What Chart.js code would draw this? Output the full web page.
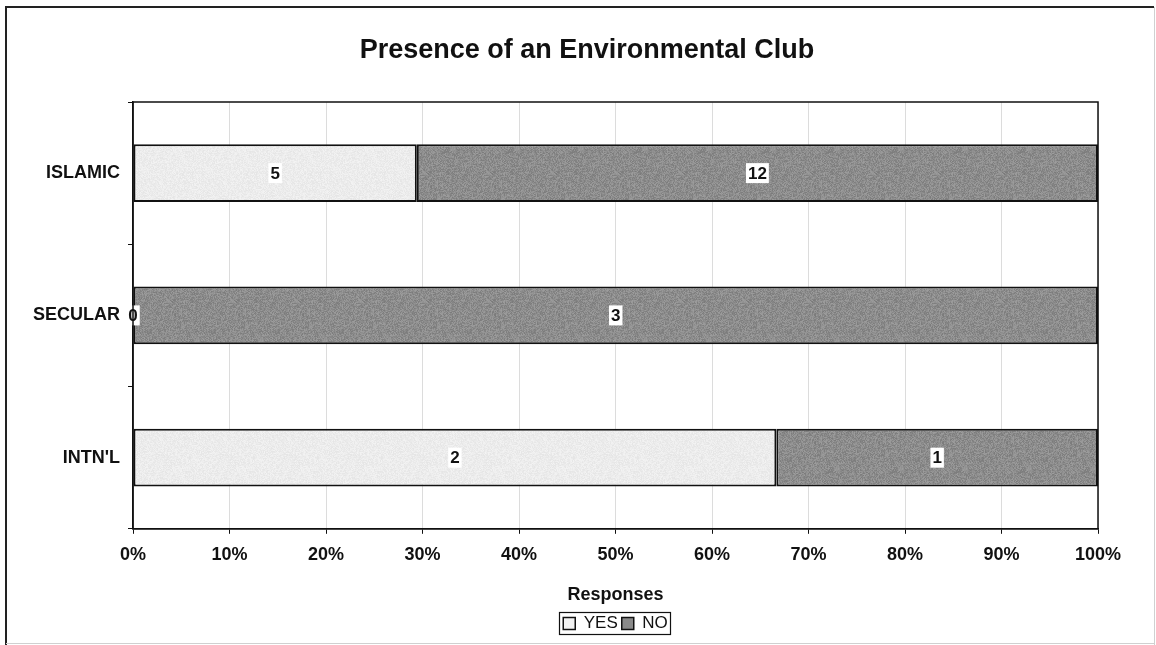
<!DOCTYPE html>
<html>
<head>
<meta charset="utf-8">
<title>Presence of an Environmental Club</title>
<script src="https://cdn.jsdelivr.net/npm/chart.js@4/dist/chart.umd.min.js"></script>
<style>
  html, body { margin: 0; padding: 0; background: #fff; }
  #wrap { width: 1156px; height: 645px; }
</style>
</head>
<body>
<div id="wrap"><canvas id="c" width="1156" height="645"></canvas></div>
<script>
// school types and club answers (counts of responses)
const schools = ["ISLAMIC", "SECULAR", "INTN'L"];
const yesCounts = [5, 0, 2];
const noCounts = [12, 3, 1];
const pctTicks = [0, 10, 20, 30, 40, 50, 60, 70, 80, 90, 100];

const FONT = "'Liberation Sans', Arial, Helvetica, sans-serif";

// share of each answer in a row, so every bar fills 100%
function share(counts, i) {
    const total = yesCounts[i] + noCounts[i];
    return counts[i] / total * 100;
}

// small speckled fill like the printed halftone
function speckle(base, spread, seed) {
    const c = document.createElement("canvas");
    c.width = 64; c.height = 64;
    const g = c.getContext("2d");
    const img = g.createImageData(64, 64);
    let s = seed;
    for (let p = 0; p < 64 * 64; p++) {
        s = (s * 1103515245 + 12345) % 2147483648;
        const v = Math.max(0, Math.min(255, base + ((s / 2147483648) - 0.5) * spread));
        img.data[p * 4] = v;
        img.data[p * 4 + 1] = v;
        img.data[p * 4 + 2] = v;
        img.data[p * 4 + 3] = 255;
    }
    g.putImageData(img, 0, 0);
    return g.createPattern(c, "repeat");
}

const ctx = document.getElementById("c").getContext("2d");
const yesFill = speckle(236, 14, 7);
const noFill = speckle(140, 34, 11);

const frame = {
    id: "frame",
    afterLayout(chart) {
        // keep the legend under the middle of the plot
        const a = chart.chartArea;
        const lg = chart.legend;
        const dx = (a.left + a.right) / 2 - (lg.left + lg.right) / 2;
        lg.left += dx;
        lg.right += dx;
    },
    beforeDraw(chart) {
        const g = chart.ctx;
        g.save();
        g.fillStyle = "#fff";
        g.fillRect(0, 0, chart.width, chart.height);
        g.strokeStyle = "#222";
        g.lineWidth = 2;
        g.beginPath();
        g.moveTo(6, 645);
        g.lineTo(6, 7);
        g.lineTo(1154, 7);
        g.stroke();
        g.strokeStyle = "#d0d0d0";
        g.lineWidth = 1;
        g.beginPath();
        g.moveTo(1154.5, 7);
        g.lineTo(1154.5, 645);
        g.moveTo(6, 643.5);
        g.lineTo(1154, 643.5);
        g.stroke();
        // chart title
        g.fillStyle = "#111";
        g.font = "bold 27px " + FONT;
        g.textAlign = "center";
        g.textBaseline = "middle";
        g.fillText("Presence of an Environmental Club", 587, 51);
        g.restore();
    },
    afterDraw(chart) {
        const g = chart.ctx;
        const a = chart.chartArea;
        g.save();
        g.strokeStyle = "#111";
        g.lineWidth = 1.5;
        g.strokeRect(a.left, a.top, a.right - a.left, a.bottom - a.top);
        // box round the legend
        const boxes = chart.legend.legendHitBoxes;
        if (boxes && boxes.length) {
            let l = Infinity, t = Infinity, r = -Infinity, b = -Infinity;
            boxes.forEach(h => {
                l = Math.min(l, h.left); t = Math.min(t, h.top);
                r = Math.max(r, h.left + h.width); b = Math.max(b, h.top + h.height);
            });
            g.lineWidth = 1.2;
            g.strokeRect(Math.round(l - 4) + 0.5, Math.round(t - 3) + 0.5, Math.round(r - l + 6), Math.round(b - t + 5));
        }
        g.restore();
    },
    afterDatasetsDraw(chart) {
        const g = chart.ctx;
        g.save();
        g.font = "bold 17px " + FONT;
        g.textAlign = "center";
        g.textBaseline = "middle";
        const sets = [yesCounts, noCounts];
        chart.data.datasets.forEach((ds, di) => {
            chart.getDatasetMeta(di).data.forEach((bar, i) => {
                const txt = String(sets[di][i]);
                const x = (bar.x + bar.base) / 2;
                const y = bar.y;
                const w = g.measureText(txt).width + 4;
                g.fillStyle = "#fff";
                g.fillRect(x - w / 2, y - 10, w, 20);
                g.fillStyle = "#111";
                g.fillText(txt, x, y + 1);
            });
        });
        g.restore();
    }
};

new Chart(ctx, {
    type: "bar",
    data: {
        labels: schools,
        datasets: [
            {
                label: "YES",
                data: schools.map((s, i) => share(yesCounts, i)),
                backgroundColor: yesFill,
                borderColor: "#111",
                borderWidth: 2,
                borderSkipped: false
            },
            {
                label: "NO",
                data: schools.map((s, i) => share(noCounts, i)),
                backgroundColor: noFill,
                borderColor: "#111",
                borderWidth: 2,
                borderSkipped: false
            }
        ]
    },
    options: {
        indexAxis: "y",
        responsive: false,
        animation: false,
        devicePixelRatio: 1,
        layout: { padding: { left: 6, right: 58, top: 102, bottom: 3 } },
        categoryPercentage: 1,
        barPercentage: 0.405,
        scales: {
            x: {
                stacked: true,
                min: 0,
                max: 100,
                afterBuildTicks(scale) {
                    scale.ticks = pctTicks.map(v => ({ value: v }));
                },
                ticks: {
                    callback: v => v + "%",
                    color: "#111",
                    padding: 10,
                    maxRotation: 0,
                    font: { family: FONT, size: 18, weight: "bold" }
                },
                grid: { color: "#dcdcdc", tickColor: "#111", tickLength: 5, lineWidth: 1 },
                border: { color: "#111", width: 1.5 },
                title: {
                    display: true,
                    text: "Responses",
                    color: "#111",
                    padding: { top: 9, bottom: 5 },
                    font: { family: FONT, size: 18, weight: "bold" }
                }
            },
            y: {
                stacked: true,
                afterFit(scale) { scale.width = 127; },
                ticks: {
                    color: "#111",
                    padding: 8,
                    font: { family: FONT, size: 18, weight: "bold" }
                },
                grid: { drawOnChartArea: false, tickColor: "#111", tickLength: 5 },
                border: { color: "#111", width: 1.5 }
            }
        },
        plugins: {
            title: { display: false },
            tooltip: { enabled: false },
            legend: {
                position: "bottom",
                labels: {
                    color: "#111",
                    boxWidth: 12,
                    boxHeight: 12,
                    padding: 4,
                    font: { family: FONT, size: 17 },
                    generateLabels(chart) {
                        return chart.data.datasets.map((ds, i) => ({
                            text: ds.label,
                            fillStyle: i === 0 ? "#f2f2f2" : "#8a8a8a",
                            strokeStyle: "#111",
                            lineWidth: 1.5,
                            fontColor: "#111",
                            datasetIndex: i
                        }));
                    }
                }
            }
        }
    },
    plugins: [frame]
});
</script>
</body>
</html>
